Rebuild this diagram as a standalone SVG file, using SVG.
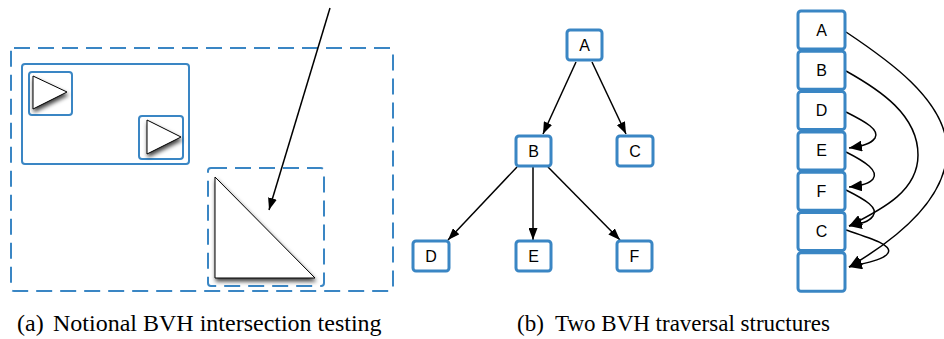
<svg xmlns="http://www.w3.org/2000/svg" width="944" height="339" viewBox="0 0 944 339">
<style>
.dash{fill:none;stroke:#3a86c4;stroke-width:2;stroke-dasharray:16 8}
.solid{fill:none;stroke:#3a86c4;stroke-width:2}
.node{fill:#fff;stroke:#3a86c4;stroke-width:3}
.tri{fill:#fff;stroke:#000;stroke-width:1}
.lbl{font-family:"Liberation Sans",Arial,sans-serif;font-size:16px;fill:#000;text-anchor:middle;dominant-baseline:central}
.cap{font-family:"Liberation Serif","Times New Roman",serif;fill:#000}
.edge{fill:none;stroke:#000;stroke-width:1.5}
</style>
<defs>
<marker id="arrL" viewBox="0 0 12 10" refX="12" refY="5" markerWidth="12" markerHeight="9" orient="auto" markerUnits="userSpaceOnUse" preserveAspectRatio="none">
<path d="M0,0 L12,5 L0,10 z" fill="#000"/>
</marker>
<marker id="arrS" viewBox="0 0 12 10" refX="12" refY="5" markerWidth="13" markerHeight="11" orient="auto" markerUnits="userSpaceOnUse" preserveAspectRatio="none">
<path d="M0,0 L12,5 L0,10 z" fill="#000"/>
</marker>
<filter id="sh" x="-20%" y="-20%" width="150%" height="150%">
<feDropShadow dx="1" dy="3" stdDeviation="2" flood-color="#000" flood-opacity="0.75"/>
</filter>
</defs>

<g id="panel-a">
<rect id="root-box" class="dash" x="11" y="48" width="382" height="243" rx="3"/>
<rect id="left-box" class="solid" x="22" y="64" width="167" height="100" rx="3"/>
<g id="leaf1">
<rect class="solid" x="29" y="72" width="43" height="43" rx="3" stroke-width="2.5"/>
<polygon class="tri" filter="url(#sh)" points="33,76 67,92 33,109"/>
</g>
<g id="leaf2">
<rect class="solid" x="139" y="116" width="44" height="43" rx="3" stroke-width="2.5"/>
<polygon class="tri" filter="url(#sh)" points="147,120 181,137 147,154"/>
</g>
<g id="leaf3">
<rect class="dash" x="208" y="168" width="116" height="118" rx="3"/>
<polygon class="tri" filter="url(#sh)" points="215,177 315,278 215,278"/>
</g>
</g>

<g id="connectors">
<path class="edge" d="M330,8 L269,210" marker-end="url(#arrL)"/>
<path class="edge" d="M576,62 L543,134" marker-end="url(#arrL)"/>
<path class="edge" d="M592,62 L626,134" marker-end="url(#arrL)"/>
<path class="edge" d="M517,167 L448,240" marker-end="url(#arrL)"/>
<path class="edge" d="M533,167 L533,240" marker-end="url(#arrL)"/>
<path class="edge" d="M548,167 L620,240" marker-end="url(#arrL)"/>
<path class="edge" d="M846,32 C885,58 947,100 947,150 C947,200 895,240 849,267" marker-end="url(#arrS)"/>
<path class="edge" d="M846,71 C880,90 918,115 918,155 C918,190 885,208 849,226" marker-end="url(#arrS)"/>
<path class="edge" d="M846,112 C866,122 880,130 875,138 C871,144 862,146 849,148" marker-end="url(#arrS)"/>
<path class="edge" d="M846,152 C866,162 879,171 873,179 C869,184 860,186 849,187" marker-end="url(#arrS)"/>
<path class="edge" d="M846,190 C866,200 879,208 873,216 C869,222 860,224 849,226" marker-end="url(#arrS)"/>
<path class="edge" d="M846,230 C870,238 893,245 888,253 C884,260 865,263 849,267" marker-end="url(#arrS)"/>
</g>

<g id="tree-A"><rect class="node" x="567" y="30" width="35" height="30" rx="3"/><text class="lbl" x="584.5" y="45">A</text></g>
<g id="tree-B"><rect class="node" x="516" y="136" width="35" height="30" rx="3"/><text class="lbl" x="533.5" y="151">B</text></g>
<g id="tree-C"><rect class="node" x="617" y="136" width="36" height="30" rx="3"/><text class="lbl" x="635" y="151">C</text></g>
<g id="tree-D"><rect class="node" x="413" y="241" width="36" height="30" rx="3"/><text class="lbl" x="431" y="256">D</text></g>
<g id="tree-E"><rect class="node" x="516" y="241" width="35" height="30" rx="3"/><text class="lbl" x="533.5" y="256">E</text></g>
<g id="tree-F"><rect class="node" x="617" y="241" width="35" height="30" rx="3"/><text class="lbl" x="634.5" y="256">F</text></g>

<g id="stack-A"><rect class="node" x="798" y="11" width="47" height="38" rx="3"/><text class="lbl" x="821.5" y="30">A</text></g>
<g id="stack-B"><rect class="node" x="798" y="51.3" width="47" height="38" rx="3"/><text class="lbl" x="821.5" y="70.3">B</text></g>
<g id="stack-D"><rect class="node" x="798" y="91.6" width="47" height="38" rx="3"/><text class="lbl" x="821.5" y="110.6">D</text></g>
<g id="stack-E"><rect class="node" x="798" y="131.9" width="47" height="38" rx="3"/><text class="lbl" x="821.5" y="150.9">E</text></g>
<g id="stack-F"><rect class="node" x="798" y="172.2" width="47" height="38" rx="3"/><text class="lbl" x="821.5" y="191.2">F</text></g>
<g id="stack-C"><rect class="node" x="798" y="212.5" width="47" height="38" rx="3"/><text class="lbl" x="821.5" y="231.5">C</text></g>
<g id="stack-end"><rect class="node" x="798" y="252.8" width="47" height="38.5" rx="3"/></g>

<g id="captions">
<text class="cap" x="17" y="331" font-size="24">(a)</text>
<text class="cap" x="53" y="331" font-size="24">Notional BVH intersection testing</text>
<text class="cap" x="517" y="331" font-size="23">(b)</text>
<text class="cap" x="555" y="331" font-size="23">Two BVH traversal structures</text>
</g>
</svg>
